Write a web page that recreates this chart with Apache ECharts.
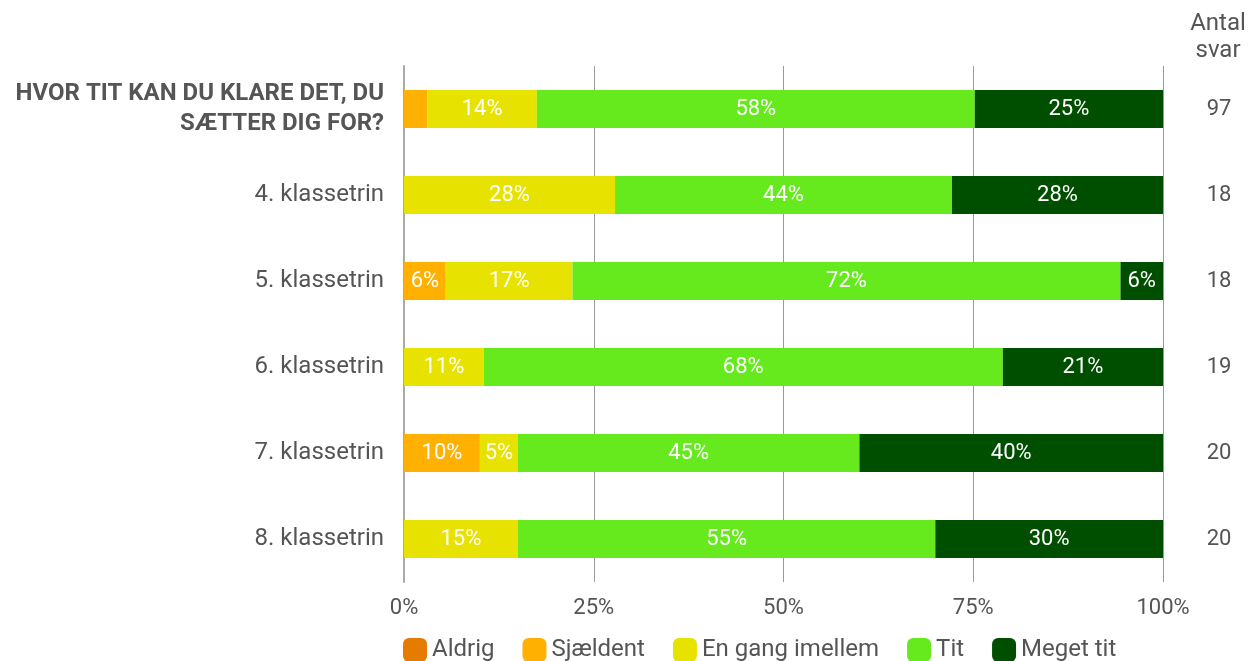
<!DOCTYPE html>
<html><head><meta charset="utf-8">
<script src="https://cdn.jsdelivr.net/npm/echarts@6/dist/echarts.min.js"></script>
<style>html,body{margin:0;padding:0;background:#fff}#c{width:1248px;height:661px}</style>
</head><body><div id="c"></div>
<script>
const categories = ['HVOR TIT KAN DU KLARE DET, DU\nSÆTTER DIG FOR?', '4. klassetrin', '5. klassetrin', '6. klassetrin', '7. klassetrin', '8. klassetrin'];
const antalSvar = ['97', '18', '18', '19', '20', '20'];
const seriesNames = ['Aldrig', 'Sjældent', 'En gang imellem', 'Tit', 'Meget tit'];
const aldrig   = [0, 0, 0, 0, 0, 0];
const sjaeldent = [3.1, 0, 5.5, 0, 10, 0];
const enGang   = [14.4, 27.8, 16.7, 10.5, 5, 15];
const tit      = [57.7, 44.4, 72.2, 68.4, 45, 55];
const megetTit = [24.8, 27.8, 5.6, 21.1, 40, 30];
const xTicks = ['0%', '25%', '50%', '75%', '100%'];
const colors = ['#E57C00', '#FFB000', '#E8E200', '#66EA1E', '#004F00'];
const allData = [aldrig, sjaeldent, enGang, tit, megetTit];
const font = 'Roboto, "Noto Sans", sans-serif';

const chart = echarts.init(document.getElementById('c'), null, {renderer: 'canvas'});
chart.setOption({
  animation: false,
  color: colors,
  textStyle: {fontFamily: font},
  graphic: [{
    type: 'text', x: 1218, y: 10,
    style: {text: 'Antal\nsvar', align: 'center', verticalAlign: 'top', fontFamily: font, fontSize: 24, fill: '#555', lineHeight: 27}
  }],
  grid: {left: 404, right: 85, top: 66, bottom: 79, containLabel: false},
  legend: {
    left: 398, top: 633, itemWidth: 24, itemHeight: 24, itemGap: 28,
    icon: 'roundRect',
    textStyle: {fontFamily: font, fontSize: 24, color: '#555'},
    data: seriesNames
  },
  xAxis: {
    type: 'value', min: 0, max: 100, interval: 25,
    axisLine: {show: false}, axisTick: {show: false},
    splitLine: {lineStyle: {color: '#999', width: 1}},
    axisLabel: {
      margin: 15, fontSize: 22, color: '#555', fontFamily: font,
      formatter: v => xTicks[Math.round(v / 25)]
    }
  },
  yAxis: [{
    type: 'category', data: categories, inverse: true,
    axisLine: {show: true, lineStyle: {color: '#aaa', width: 2}},
    axisTick: {show: false},
    axisLabel: {
      margin: 20, fontSize: 24, color: '#555', fontFamily: font, align: 'right',
      formatter: (v, i) => i === 0 ? '{b|' + v + '}' : v,
      rich: {b: {fontSize: 24, fontWeight: 'bold', color: '#555', fontFamily: font, lineHeight: 30, align: 'right'}}
    }
  }, {
    type: 'category', data: antalSvar, inverse: true, position: 'right',
    axisLine: {show: false}, axisTick: {show: false},
    axisLabel: {margin: 56, fontSize: 22, color: '#555', fontFamily: font, align: 'center'}
  }],
  series: seriesNames.map((name, k) => ({
    name, type: 'bar', stack: 'total', barWidth: 38, yAxisIndex: 0,
    data: allData[k],
    itemStyle: {color: colors[k]},
    label: {
      show: true, position: 'inside', color: '#fff', fontSize: 22, fontFamily: font,
      formatter: p => p.value >= 4 ? Math.round(p.value) + '%' : ''
    }
  }))
});
</script></body></html>
